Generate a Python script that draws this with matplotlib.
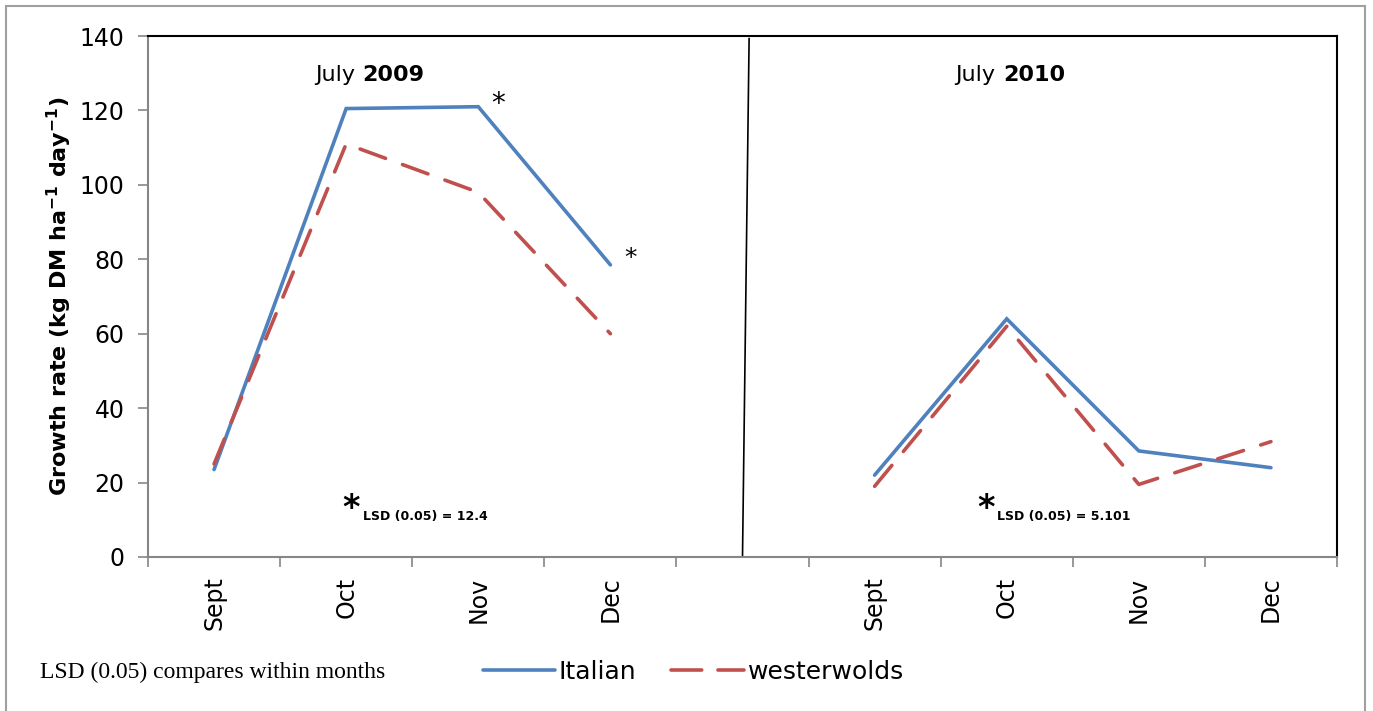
import matplotlib
matplotlib.use("Agg")
import matplotlib.pyplot as plt
from matplotlib.lines import Line2D
from matplotlib.patches import Rectangle
import numpy as np

# categories: 2009 months, a blank gap, 2010 months
categories = ["Sept", "Oct", "Nov", "Dec", "", "Sept", "Oct", "Nov", "Dec"]
italian_2009 = [23.5, 120.5, 121.0, 78.5]
westerwolds_2009 = [25.0, 111.0, 98.0, 60.0]
italian_2010 = [22.0, 64.0, 28.5, 24.0]
westerwolds_2010 = [19.0, 62.0, 19.5, 31.0]
lsd_2009 = 12.4
lsd_2010 = 5.101
yticks = [0, 20, 40, 60, 80, 100, 120, 140]

BLUE = "#4F81BD"
RED = "#C0504D"
GREY = "#868686"
FONT = "DejaVu Sans"

fig = plt.figure(figsize=(13.73, 7.11), dpi=100)
ax = fig.add_axes([148 / 1373, 1 - 557 / 711, (1337 - 148) / 1373, (557 - 36) / 711])

x09 = np.arange(0, 4)
x10 = np.arange(5, 9)
dash = (7.5, 5)
ax.plot(x09, italian_2009, color=BLUE, lw=2.6, solid_capstyle="round", solid_joinstyle="miter")
ax.plot(x10, italian_2010, color=BLUE, lw=2.6, solid_capstyle="round", solid_joinstyle="miter")
ax.plot(x09, westerwolds_2009, color=RED, lw=2.6, dashes=dash, dash_capstyle="round")
ax.plot(x10, westerwolds_2010, color=RED, lw=2.6, dashes=dash, dash_capstyle="round")

# divider between the two years
ax.plot([4.05, 4.0], [139.3, 0], color="black", lw=1.2)

ax.set_xlim(-0.5, len(categories) - 0.5)
ax.set_ylim(0, 140)
ax.set_yticks(yticks)
ax.set_yticklabels([str(v) for v in yticks], fontsize=17, family=FONT)
ax.set_xticks(np.arange(len(categories)))
ax.set_xticklabels(categories, rotation=90, fontsize=17, family=FONT)
ax.set_xticks(np.arange(-0.5, len(categories)), minor=True)
ax.tick_params(axis="x", which="major", length=0, pad=14)
ax.tick_params(axis="x", which="minor", length=7, color=GREY, width=1.2)
ax.tick_params(axis="y", length=7, color=GREY, width=1.2, pad=10)

for side in ("left", "bottom"):
    ax.spines[side].set_color(GREY)
    ax.spines[side].set_linewidth(1.5)
for side in ("top", "right"):
    ax.spines[side].set_color("black")
    ax.spines[side].set_linewidth(1.5)

ax.set_ylabel("Growth rate (kg DM ha$^{\\mathregular{-1}}$ day$^{\\mathregular{-1}}$)",
              fontsize=16, fontweight="bold", family=FONT, labelpad=4)

# year headers
ax.text(1.12, 129.5, "July ", ha="right", va="center", fontsize=16, family=FONT)
ax.text(1.12, 129.5, "2009", ha="left", va="center", fontsize=16, family=FONT, fontweight="bold")
ax.text(5.97, 129.5, "July ", ha="right", va="center", fontsize=16, family=FONT)
ax.text(5.97, 129.5, "2010", ha="left", va="center", fontsize=16, family=FONT, fontweight="bold")

# significance marks
ax.annotate("*", (2, italian_2009[2]), xytext=(9, -8), textcoords="offset points",
            fontsize=20, family=FONT, ha="left", va="bottom")
ax.annotate("*", (3, italian_2009[3]), xytext=(10, -4), textcoords="offset points",
            fontsize=18, family=FONT, ha="left", va="bottom")

# LSD notes
for xa, lsd in ((1.04, lsd_2009), (5.84, lsd_2010)):
    ax.text(xa, 13.0, "*", fontsize=24, fontweight="bold", family=FONT, ha="center", va="center")
    ax.text(xa + 0.09, 10.8, f"LSD (0.05) = {lsd}", fontsize=9, fontweight="bold",
            family=FONT, ha="left", va="center")

# bottom note and legend
fig.text(40 / 1373, 1 - 672 / 711, "LSD (0.05) compares within months", family="Liberation Serif",
         fontsize=17, ha="left", va="center")
handles = [
    Line2D([], [], color=BLUE, lw=2.6, solid_capstyle="round"),
    Line2D([], [], color=RED, lw=2.6, dashes=(8.5, 4.5), dash_capstyle="round"),
]
fig.legend(handles, ["Italian", "westerwolds"], loc="center left", ncol=2,
           bbox_to_anchor=(470 / 1373, 1 - 672 / 711), frameon=False,
           prop={"family": FONT, "size": 18}, handlelength=2.9, handletextpad=0.15,
           columnspacing=1.4, borderpad=0)

# outer grey frame
fig.patches.append(Rectangle((6 / 1373, -0.01), (1365 - 6) / 1373, 1 - 6 / 711 + 0.01,
                             transform=fig.transFigure, fill=False, edgecolor="#A0A0A0", lw=1.5))

fig.savefig("out.png", dpi=100)
